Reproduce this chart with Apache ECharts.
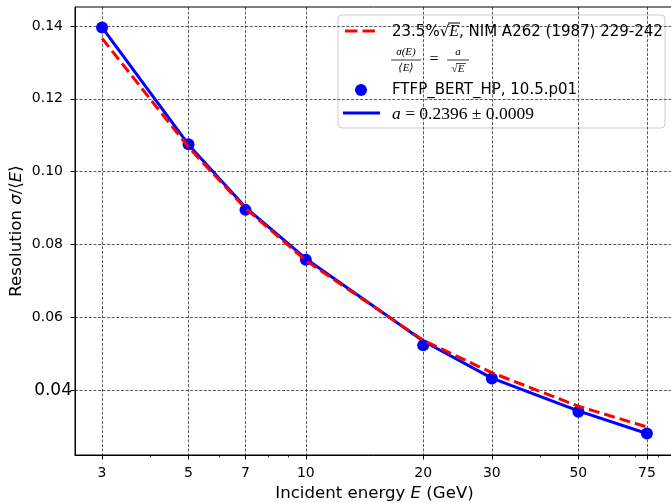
<!DOCTYPE html>
<html><head><meta charset="utf-8">
<script src="https://cdn.jsdelivr.net/npm/echarts@6/dist/echarts.min.js"></script>
<style>html,body{margin:0;padding:0;background:#fff}#c{width:671px;height:503px}</style>
</head><body><div id="c"></div>
<script>
// ---- data ----
const energies = [3, 5, 7, 10, 20, 30, 50, 75];               // GeV
const ftfpRes  = [0.1396, 0.1075, 0.0895, 0.0758, 0.0523, 0.0432, 0.0341, 0.0281];
const fitRes   = [0.1396, 0.1074, 0.0902, 0.0761, 0.0535, 0.0433, 0.0343, 0.0281];
const nimRes   = [0.1366, 0.1067, 0.0899, 0.0756, 0.0537, 0.0448, 0.0356, 0.0299];
const xMajorTicks = [3, 5, 7, 10, 20, 30, 50, 75];
const xMinorTicks = [4, 6, 8, 9, 40, 60, 70, 80];
const yTicks = [0.04, 0.06, 0.08, 0.10, 0.12, 0.14];

const legendText1 = '23.5%';
const legendText1b = ', NIM A262 (1987) 229-242';
const legendText3 = 'FTFP_BERT_HP, 10.5.p01';
const legendText4 = ' = 0.2396 \u00b1 0.0009';

const pair = (xs, ys) => xs.map((x, i) => [x, ys[i]]);
const SANS = '"DejaVu Sans", sans-serif';
const SERIF = '"Liberation Serif", "DejaVu Serif", serif';
const gridLine = { show: true, lineStyle: { color: 'rgba(0,0,0,0.8)', width: 0.8, type: [3, 1.6] } };

const chart = echarts.init(document.getElementById('c'), null, { renderer: 'canvas' });
chart.setOption({
  animation: false,
  backgroundColor: '#fff',
  grid: { left: 75, top: 7, right: -3, bottom: 48, containLabel: false, outerBoundsMode: 'none',
    show: true, borderColor: '#000', borderWidth: 1, backgroundColor: 'transparent' },
  xAxis: [{
    type: 'log', logBase: 10, min: 2.557, max: 88,
    name: 'Incident energy {i|E} (GeV)', nameLocation: 'middle', nameGap: 30,
    nameTextStyle: { fontSize: 16.6, fontFamily: SANS, color: '#000',
      rich: { i: { fontStyle: 'italic', fontSize: 16.6, fontFamily: SANS, color: '#000' } } },
    axisLine: { show: true, lineStyle: { color: '#000', width: 1 } },
    axisTick: { show: true, length: 4.5, customValues: xMajorTicks, lineStyle: { color: '#000', width: 1 } },
    axisLabel: { customValues: xMajorTicks, margin: 11, fontSize: 14, fontFamily: SANS, color: '#000',
      formatter: v => String(Math.round(v)) },
    splitLine: gridLine
  }, {
    type: 'log', logBase: 10, min: 2.557, max: 88, position: 'bottom', gridIndex: 0,
    axisLine: { show: false },
    axisTick: { show: true, length: 2.5, customValues: xMinorTicks, lineStyle: { color: '#000', width: 0.8 } },
    axisLabel: { show: false },
    splitLine: { show: false }
  }],
  yAxis: {
    type: 'value', min: 0.0222, max: 0.1452,
    name: 'Resolution {i|\u03c3}/\u27e8{i|E}\u27e9', nameLocation: 'middle', nameGap: 50, nameMoveOverlap: false,
    nameTextStyle: { fontSize: 16.6, fontFamily: SANS, color: '#000',
      rich: { i: { fontStyle: 'italic', fontSize: 16.6, fontFamily: SANS, color: '#000' } } },
    axisLine: { show: true, lineStyle: { color: '#000', width: 1 } },
    axisTick: { show: true, length: 4.5, customValues: yTicks, lineStyle: { color: '#000', width: 1 } },
    axisLabel: { customValues: yTicks, margin: 3, color: '#000',
      formatter: v => Math.abs(v - 0.04) < 1e-9 ? '{big|0.04}' : '{n|' + v.toFixed(2) + '}',
      rich: {
        n: { fontSize: 14, fontFamily: SANS, color: '#000', padding: [0, 9, 0, 0] },
        big: { fontSize: 17, fontFamily: SANS, color: '#000' }
      } },
    splitLine: gridLine
  },
  series: [{
    name: 'a fit', type: 'line', data: pair(energies, fitRes), showSymbol: false, symbol: 'none', z: 2,
    lineStyle: { color: '#0000ff', width: 3 }
  }, {
    name: 'FTFP_BERT_HP, 10.5.p01', type: 'scatter', data: pair(energies, ftfpRes), symbolSize: 12, z: 3,
    itemStyle: { color: '#0000ff', opacity: 1 }
  }, {
    name: 'NIM A262', type: 'line', data: pair(energies, nimRes), showSymbol: false, symbol: 'none', z: 4,
    lineStyle: { color: '#ff0000', width: 3, type: [11, 5] }
  }],
  graphic: [{
    type: 'group', z: 100,
    children: [
      { type: 'rect', shape: { x: 338, y: 15, width: 327, height: 113, r: 4 },
        style: { fill: 'rgba(255,255,255,0.8)', stroke: '#cccccc', lineWidth: 1 } },
      { type: 'line', shape: { x1: 345, y1: 31, x2: 375, y2: 31 },
        style: { stroke: '#ff0000', lineWidth: 3, lineDash: [12.5, 5] } },
      { type: 'text', x: 392, y: 32,
        style: { text: legendText1 + '{r|\u221a}{e|E}' + legendText1b, fill: '#000', font: '15px ' + SANS, verticalAlign: 'middle',
          rich: { r: { fontSize: 15, fontFamily: SANS }, e: { fontSize: 16, fontFamily: SERIF, fontStyle: 'italic' } } } },
      { type: 'line', shape: { x1: 448, y1: 23, x2: 460, y2: 23 }, style: { stroke: '#000', lineWidth: 1 } },
      // fraction sigma(E)/<E> = a/sqrt(E)
      { type: 'text', x: 406, y: 52, style: { text: '\u03c3(E)', font: 'italic 11px ' + SERIF, fill: '#000', align: 'center', verticalAlign: 'middle' } },
      { type: 'line', shape: { x1: 391, y1: 60, x2: 421, y2: 60 }, style: { stroke: '#000', lineWidth: 0.8 } },
      { type: 'text', x: 406, y: 68, style: { text: '\u27e8E\u27e9', font: 'italic 11px ' + SERIF, fill: '#000', align: 'center', verticalAlign: 'middle' } },
      { type: 'text', x: 434, y: 60, style: { text: '=', font: '16px ' + SERIF, fill: '#000', align: 'center', verticalAlign: 'middle' } },
      { type: 'text', x: 458, y: 52, style: { text: 'a', font: 'italic 11px ' + SERIF, fill: '#000', align: 'center', verticalAlign: 'middle' } },
      { type: 'line', shape: { x1: 447, y1: 60, x2: 469, y2: 60 }, style: { stroke: '#000', lineWidth: 0.8 } },
      { type: 'text', x: 458, y: 69, style: { text: '\u221aE', font: 'italic 11px ' + SERIF, fill: '#000', align: 'center', verticalAlign: 'middle' } },
      { type: 'line', shape: { x1: 456, y1: 63.5, x2: 466, y2: 63.5 }, style: { stroke: '#000', lineWidth: 0.7 } },
      { type: 'circle', shape: { cx: 361, cy: 90, r: 6 }, style: { fill: '#0000ff' } },
      { type: 'text', x: 392, y: 90, style: { text: legendText3, fill: '#000', font: '15px ' + SANS, verticalAlign: 'middle' } },
      { type: 'line', shape: { x1: 343, y1: 113, x2: 380, y2: 113 }, style: { stroke: '#0000ff', lineWidth: 3 } },
      { type: 'text', x: 392, y: 114,
        style: { text: '{i|a}' + legendText4, fill: '#000', font: '17.5px ' + SERIF, verticalAlign: 'middle',
          rich: { i: { fontStyle: 'italic', fontSize: 17.5, fontFamily: SERIF } } } }
    ]
  }]
});
</script>
</body></html>
